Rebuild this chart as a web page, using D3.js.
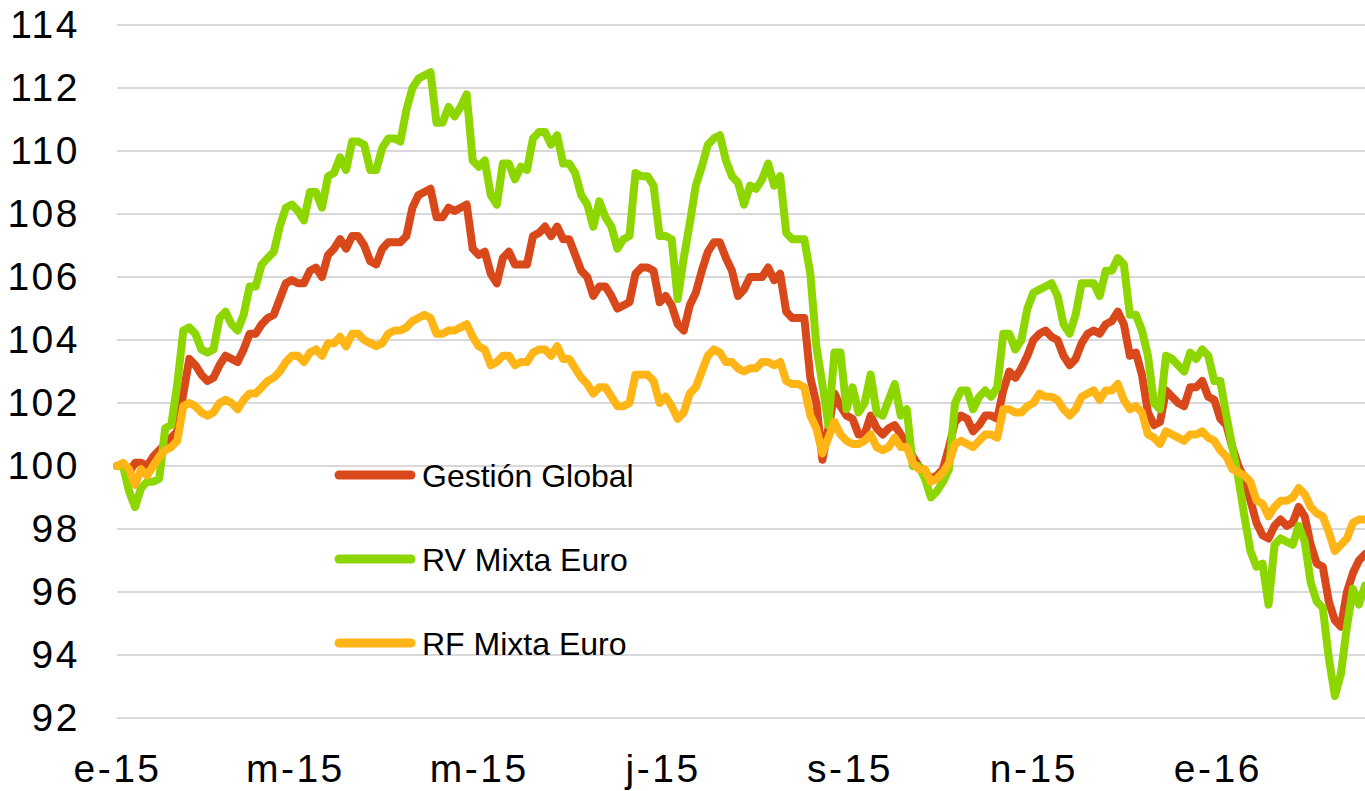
<!DOCTYPE html>
<html>
<head>
<meta charset="utf-8">
<script src="https://cdn.jsdelivr.net/npm/d3@7"></script>
<style>
  html, body { margin: 0; padding: 0; background: #ffffff; }
  svg { display: block; }
  text { font-family: "Liberation Sans", Arial, sans-serif; fill: #000; }
</style>
</head>
<body>
<svg id="chart" width="1365" height="791"></svg>
<script>
// Observation dates (every second calendar day)
const dates = [
  "2015-01-01","2015-01-03","2015-01-05","2015-01-07","2015-01-09","2015-01-11","2015-01-13","2015-01-15","2015-01-17","2015-01-19",
  "2015-01-21","2015-01-23","2015-01-25","2015-01-27","2015-01-29","2015-01-31","2015-02-02","2015-02-04","2015-02-06","2015-02-08",
  "2015-02-10","2015-02-12","2015-02-14","2015-02-16","2015-02-18","2015-02-20","2015-02-22","2015-02-24","2015-02-26","2015-02-28",
  "2015-03-02","2015-03-04","2015-03-06","2015-03-08","2015-03-10","2015-03-12","2015-03-14","2015-03-16","2015-03-18","2015-03-20",
  "2015-03-22","2015-03-24","2015-03-26","2015-03-28","2015-03-30","2015-04-01","2015-04-03","2015-04-05","2015-04-07","2015-04-09",
  "2015-04-11","2015-04-13","2015-04-15","2015-04-17","2015-04-19","2015-04-21","2015-04-23","2015-04-25","2015-04-27","2015-04-29",
  "2015-05-01","2015-05-03","2015-05-05","2015-05-07","2015-05-09","2015-05-11","2015-05-13","2015-05-15","2015-05-17","2015-05-19",
  "2015-05-21","2015-05-23","2015-05-25","2015-05-27","2015-05-29","2015-05-31","2015-06-02","2015-06-04","2015-06-06","2015-06-08",
  "2015-06-10","2015-06-12","2015-06-14","2015-06-16","2015-06-18","2015-06-20","2015-06-22","2015-06-24","2015-06-26","2015-06-28",
  "2015-06-30","2015-07-02","2015-07-04","2015-07-06","2015-07-08","2015-07-10","2015-07-12","2015-07-14","2015-07-16","2015-07-18",
  "2015-07-20","2015-07-22","2015-07-24","2015-07-26","2015-07-28","2015-07-30","2015-08-01","2015-08-03","2015-08-05","2015-08-07",
  "2015-08-09","2015-08-11","2015-08-13","2015-08-15","2015-08-17","2015-08-19","2015-08-21","2015-08-23","2015-08-25","2015-08-27",
  "2015-08-29","2015-08-31","2015-09-02","2015-09-04","2015-09-06","2015-09-08","2015-09-10","2015-09-12","2015-09-14","2015-09-16",
  "2015-09-18","2015-09-20","2015-09-22","2015-09-24","2015-09-26","2015-09-28","2015-09-30","2015-10-02","2015-10-04","2015-10-06",
  "2015-10-08","2015-10-10","2015-10-12","2015-10-14","2015-10-16","2015-10-18","2015-10-20","2015-10-22","2015-10-24","2015-10-26",
  "2015-10-28","2015-10-30","2015-11-01","2015-11-03","2015-11-05","2015-11-07","2015-11-09","2015-11-11","2015-11-13","2015-11-15",
  "2015-11-17","2015-11-19","2015-11-21","2015-11-23","2015-11-25","2015-11-27","2015-11-29","2015-12-01","2015-12-03","2015-12-05",
  "2015-12-07","2015-12-09","2015-12-11","2015-12-13","2015-12-15","2015-12-17","2015-12-19","2015-12-21","2015-12-23","2015-12-25",
  "2015-12-27","2015-12-29","2015-12-31","2016-01-02","2016-01-04","2016-01-06","2016-01-08","2016-01-10","2016-01-12","2016-01-14",
  "2016-01-16","2016-01-18","2016-01-20","2016-01-22","2016-01-24","2016-01-26","2016-01-28","2016-01-30","2016-02-01","2016-02-03",
  "2016-02-05","2016-02-07","2016-02-09","2016-02-11","2016-02-13","2016-02-15","2016-02-17","2016-02-19"
];

// Index values (base 100 = 1 Jan 2015)
const gestionGlobal = [
  100.0,100.0,99.8,100.1,100.1,100.0,100.3,100.5,100.7,100.9,
  101.1,102.3,103.4,103.2,102.9,102.7,102.8,103.2,103.5,103.4,
  103.3,103.7,104.2,104.2,104.5,104.7,104.8,105.3,105.8,105.9,
  105.8,105.8,106.2,106.3,106.0,106.7,106.9,107.2,106.9,107.3,
  107.3,107.0,106.5,106.4,106.9,107.1,107.1,107.1,107.3,108.2,
  108.6,108.7,108.8,107.9,107.9,108.2,108.1,108.2,108.3,106.9,
  106.7,106.8,106.1,105.8,106.6,106.8,106.4,106.4,106.4,107.3,
  107.4,107.6,107.3,107.6,107.2,107.2,106.7,106.2,106.0,105.4,
  105.7,105.7,105.4,105.0,105.1,105.2,106.1,106.3,106.3,106.2,
  105.2,105.4,105.1,104.5,104.3,105.1,105.5,106.2,106.8,107.1,
  107.1,106.6,106.2,105.4,105.6,106.0,106.0,106.0,106.3,105.9,
  106.1,104.9,104.7,104.7,104.7,102.8,102.0,100.2,101.2,102.3,
  101.9,101.6,101.5,101.0,101.0,101.6,101.2,101.0,101.2,101.3,
  101.0,100.7,100.3,100.0,99.8,99.6,99.7,99.9,100.6,101.4,
  101.6,101.5,101.1,101.3,101.6,101.6,101.5,102.4,103.0,102.8,
  103.1,103.5,104.0,104.2,104.3,104.1,104.0,103.5,103.2,103.4,
  103.9,104.2,104.3,104.2,104.5,104.6,104.9,104.5,103.5,103.6,
  102.9,101.7,101.3,101.4,102.4,102.2,102.0,101.9,102.5,102.5,
  102.7,102.2,102.1,101.5,101.3,100.6,100.0,99.6,98.9,98.2,
  97.8,97.7,98.1,98.3,98.1,98.2,98.7,98.4,97.5,96.9,
  96.8,95.7,95.1,94.9,96.0,96.6,97.0,97.2
];

const rvMixtaEuro = [
  100.0,100.0,99.2,98.7,99.3,99.5,99.5,99.6,101.2,101.3,
  102.6,104.3,104.4,104.2,103.7,103.6,103.7,104.7,104.9,104.5,
  104.3,104.8,105.7,105.7,106.4,106.6,106.8,107.6,108.2,108.3,
  108.1,107.8,108.7,108.7,108.2,109.2,109.3,109.8,109.4,110.3,
  110.3,110.2,109.4,109.4,110.1,110.4,110.4,110.3,111.3,112.0,
  112.3,112.4,112.5,110.9,110.9,111.4,111.1,111.4,111.8,109.7,
  109.5,109.7,108.6,108.3,109.6,109.6,109.1,109.5,109.4,110.4,
  110.6,110.6,110.2,110.5,109.6,109.6,109.3,108.6,108.3,107.6,
  108.4,107.9,107.6,106.9,107.2,107.3,109.3,109.2,109.2,108.9,
  107.3,107.3,107.2,105.3,106.6,107.7,108.9,109.5,110.2,110.4,
  110.5,109.7,109.2,109.0,108.3,108.9,108.8,109.1,109.6,108.9,
  109.2,107.4,107.2,107.2,107.2,106.1,103.8,102.6,101.3,103.6,
  103.6,101.8,102.5,101.7,102.0,102.9,101.7,101.6,102.1,102.6,
  101.6,101.8,100.0,100.0,99.6,99.0,99.2,99.5,99.9,102.0,
  102.4,102.4,101.8,102.2,102.4,102.2,102.5,104.2,104.2,103.7,
  104.0,105.0,105.5,105.6,105.7,105.8,105.4,104.5,104.2,104.8,
  105.8,105.8,105.8,105.4,106.2,106.2,106.6,106.4,104.8,104.8,
  104.3,103.5,102.0,101.8,103.5,103.4,103.2,103.0,103.6,103.4,
  103.7,103.5,102.7,102.7,101.6,100.6,99.6,98.4,97.3,96.8,
  96.9,95.6,97.5,97.7,97.6,97.5,98.1,97.6,96.3,95.7,
  95.5,93.9,92.7,93.4,94.9,96.1,95.6,96.2
];

const rfMixtaEuro = [
  100.0,100.1,99.9,99.4,99.9,99.7,100.0,100.3,100.5,100.6,
  100.8,101.9,102.0,101.9,101.7,101.6,101.7,102.0,102.1,102.0,
  101.8,102.1,102.3,102.3,102.5,102.7,102.8,103.0,103.3,103.5,
  103.5,103.3,103.6,103.7,103.5,103.9,103.9,104.1,103.8,104.2,
  104.2,104.0,103.9,103.8,103.9,104.2,104.3,104.3,104.4,104.6,
  104.7,104.8,104.7,104.2,104.2,104.3,104.3,104.4,104.5,104.1,
  103.8,103.7,103.2,103.3,103.5,103.5,103.2,103.3,103.3,103.6,
  103.7,103.7,103.5,103.8,103.4,103.4,103.1,102.8,102.6,102.3,
  102.5,102.5,102.2,101.9,101.9,102.0,102.9,102.9,102.9,102.7,
  102.0,102.2,101.9,101.5,101.7,102.3,102.5,103.0,103.5,103.7,
  103.6,103.3,103.3,103.1,103.0,103.1,103.1,103.3,103.3,103.2,
  103.3,102.7,102.6,102.6,102.5,101.6,101.2,100.4,100.9,101.4,
  101.0,100.8,100.7,100.7,100.8,101.0,100.6,100.5,100.6,100.9,
  100.6,100.6,100.1,99.9,99.9,99.5,99.6,99.8,100.1,100.7,
  100.8,100.7,100.6,100.8,101.0,101.0,100.9,101.8,101.8,101.7,
  101.7,101.9,102.0,102.3,102.2,102.2,102.1,101.8,101.6,101.8,
  102.2,102.3,102.4,102.1,102.4,102.4,102.6,102.1,101.8,101.9,
  101.7,101.0,100.9,100.7,101.1,101.0,100.9,100.8,101.0,101.0,
  101.1,100.9,100.8,100.5,100.3,99.9,99.8,99.7,99.5,98.9,
  98.8,98.4,98.7,98.9,98.9,99.0,99.3,99.1,98.7,98.5,
  98.4,97.9,97.3,97.5,97.7,98.2,98.3,98.3
];

const seriesNames = ["Gestión Global", "RV Mixta Euro", "RF Mixta Euro"];
const seriesColors = ["#D9481B", "#8ED600", "#FFB515"];

const yTicks = [92, 94, 96, 98, 100, 102, 104, 106, 108, 110, 112, 114];
const xTickDates = ["2015-01-01", "2015-03-01", "2015-05-01", "2015-07-01", "2015-09-01", "2015-11-01", "2016-01-01"];
const xTickLabels = ["e-15", "m-15", "m-15", "j-15", "s-15", "n-15", "e-16"];

// ---- layout ----
const plotLeft = 117, plotRight = 1365, plotTop = 25, plotBottom = 718;
const parse = d3.timeParse("%Y-%m-%d");
const svg = d3.select("#chart");

const x = d3.scaleTime()
  .domain([parse(dates[0]), parse(dates[dates.length - 1])])
  .range([plotLeft, plotRight]);
const y = d3.scaleLinear().domain([92, 114]).range([plotBottom, plotTop]);

// horizontal gridlines
svg.append("g")
  .selectAll("line")
  .data(yTicks)
  .join("line")
  .attr("x1", plotLeft).attr("x2", plotRight)
  .attr("y1", d => y(d)).attr("y2", d => y(d))
  .attr("stroke", "#D9D9D9").attr("stroke-width", 2);

// y axis labels
const yAxis = svg.append("g")
  .attr("transform", `translate(${plotLeft},0)`)
  .call(d3.axisLeft(y).tickValues(yTicks).tickSize(0).tickPadding(37).tickFormat(d3.format("d")));
yAxis.select(".domain").remove();
yAxis.selectAll("text")
  .attr("font-size", 39)
  .attr("letter-spacing", "2.5px")
  .attr("fill", "#000")
  .attr("font-family", "'Liberation Sans', Arial, sans-serif");

// x axis labels
const xAxis = svg.append("g")
  .attr("transform", `translate(0,${plotBottom})`)
  .call(d3.axisBottom(x)
    .tickValues(xTickDates.map(parse))
    .tickSize(0)
    .tickPadding(36)
    .tickFormat((d, i) => xTickLabels[i]));
xAxis.select(".domain").remove();
xAxis.selectAll("text")
  .attr("font-size", 39)
  .attr("letter-spacing", "2.5px")
  .attr("fill", "#000")
  .attr("font-family", "'Liberation Sans', Arial, sans-serif");

// series lines
const seriesValues = [gestionGlobal, rvMixtaEuro, rfMixtaEuro];
const line = d3.line()
  .x((d, i) => x(parse(dates[i])))
  .y(d => y(d));

svg.append("g")
  .selectAll("path")
  .data(seriesValues)
  .join("path")
  .attr("d", d => line(d))
  .attr("fill", "none")
  .attr("stroke", (d, i) => seriesColors[i])
  .attr("stroke-width", 8)
  .attr("stroke-linejoin", "round")
  .attr("stroke-linecap", "round");

// legend
const legend = svg.append("g");
const legendY = [475, 559, 643];
seriesNames.forEach((name, i) => {
  legend.append("line")
    .attr("x1", 339).attr("x2", 411)
    .attr("y1", legendY[i]).attr("y2", legendY[i])
    .attr("stroke", seriesColors[i])
    .attr("stroke-width", 9)
    .attr("stroke-linecap", "round");
  legend.append("text")
    .attr("x", 422)
    .attr("y", legendY[i] + 11.5)
    .attr("font-size", 32)
    .text(name);
});
</script>
</body>
</html>
